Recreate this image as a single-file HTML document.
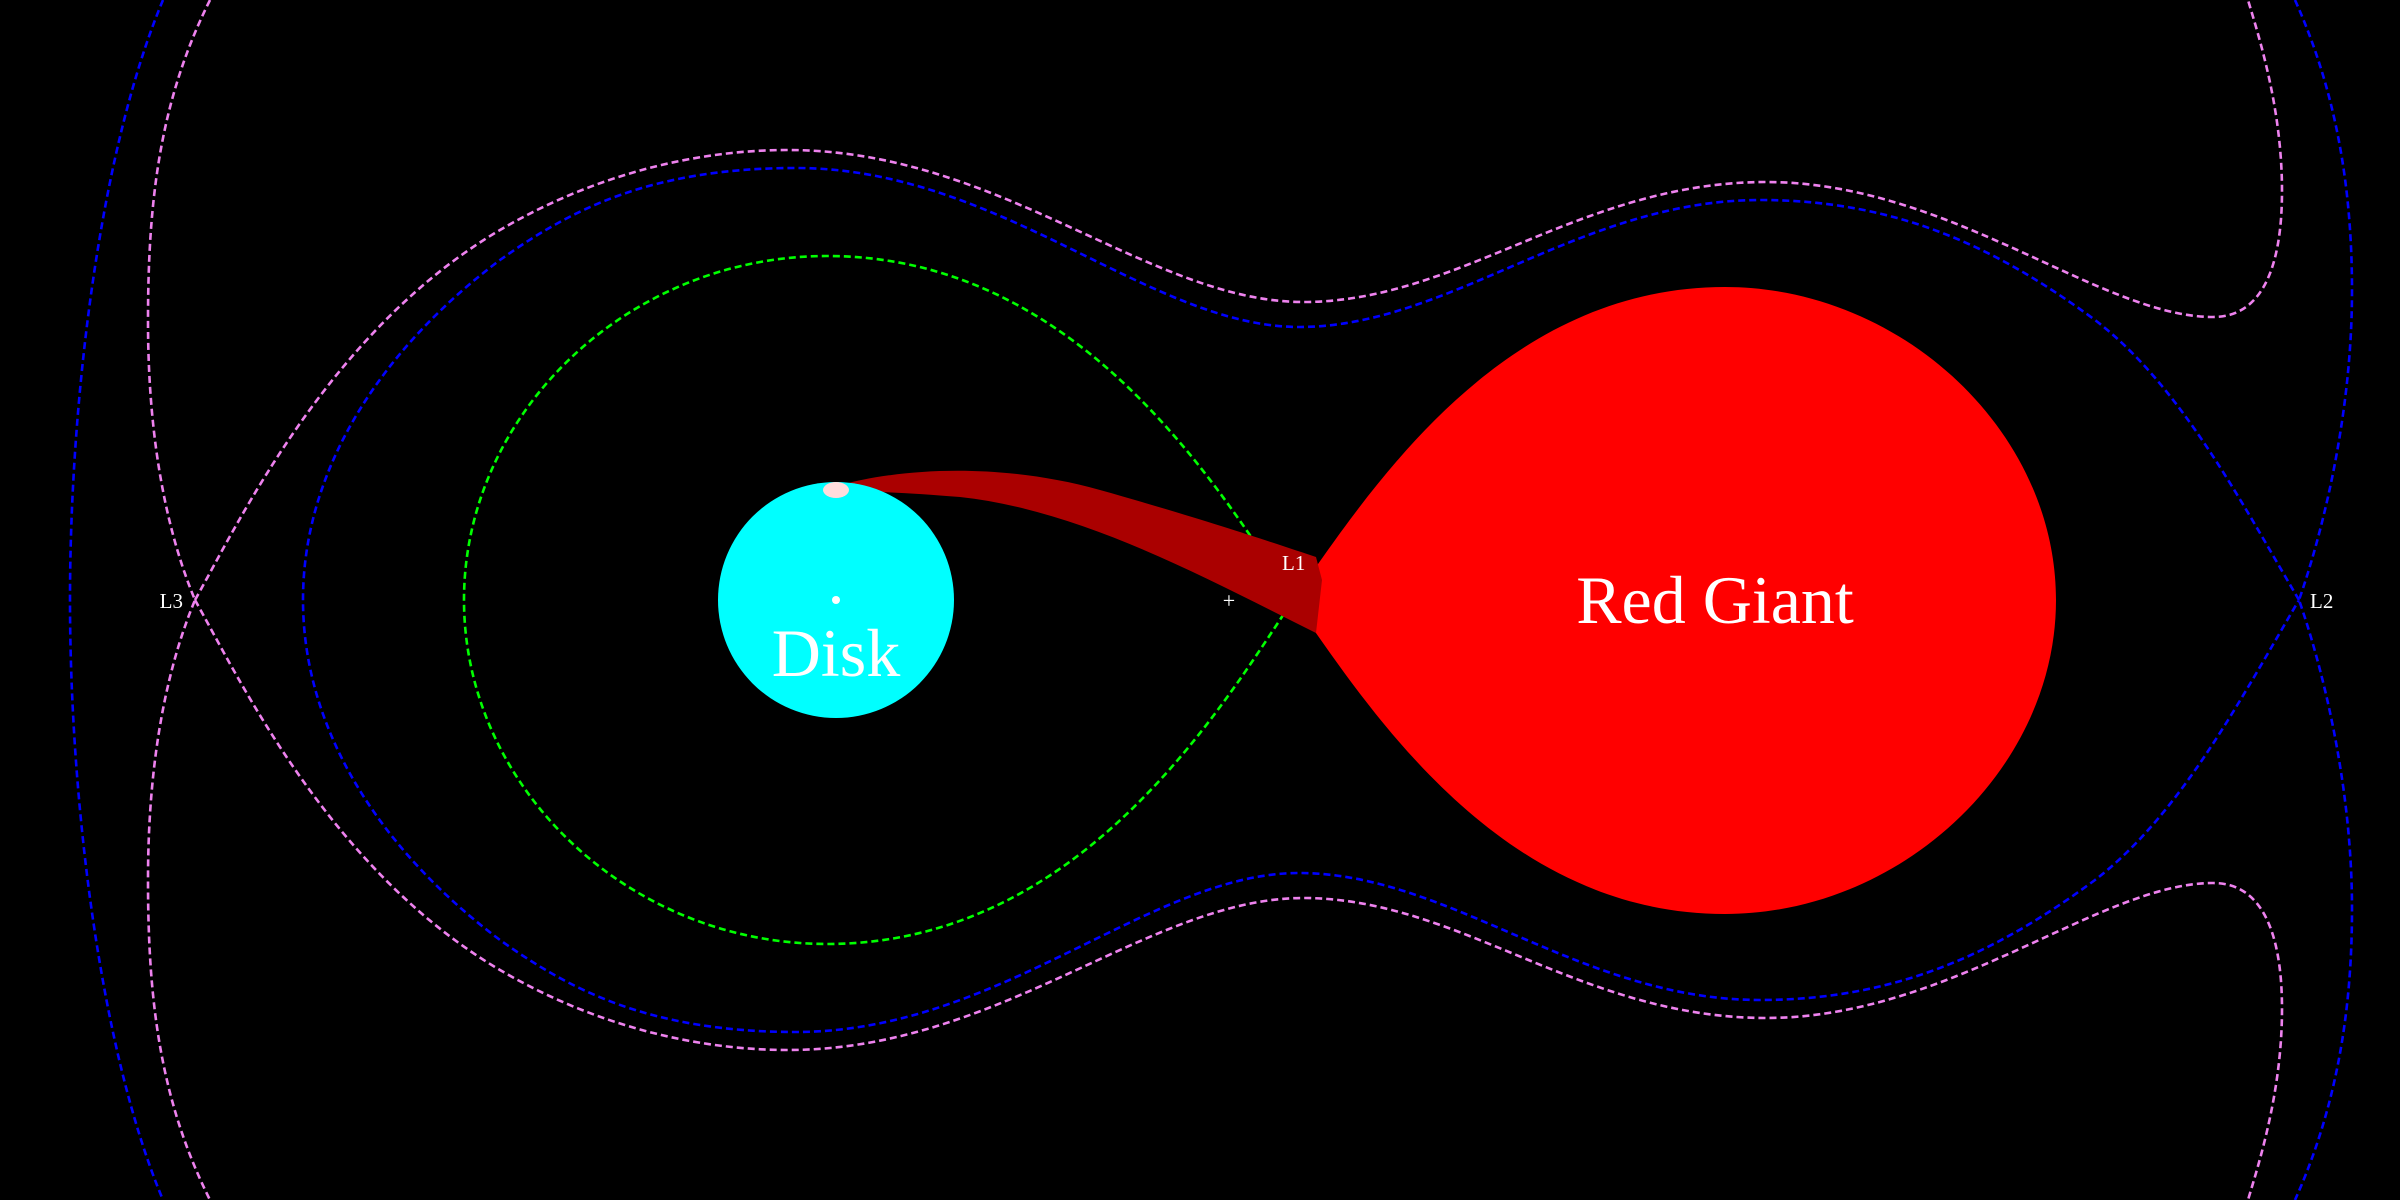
<!DOCTYPE html>
<html><head><meta charset="utf-8"><style>
html,body{margin:0;padding:0;background:#000;}
svg{display:block}
</style></head><body>
<svg width="2400" height="1200" viewBox="0 0 2400 1200" xmlns="http://www.w3.org/2000/svg">
<rect width="2400" height="1200" fill="#000"/>
<g fill="none" stroke-width="2.6" stroke-dasharray="7 4">
<!-- blue outer -->
<path stroke="#0000ff" d="M163,0 C100,150 70,400 70,600 C70,800 100,1050 163,1200"/>
<path stroke="#0000ff" d="M2295,0 C2340,100 2352,200 2352,291 C2352,420 2320,540 2299,600 C2320,660 2352,780 2352,909 C2352,1000 2340,1100 2295,1200"/>
<!-- blue inner -->
<path stroke="#0000ff" d="M2299,600 C2240,500 2180,385 2095,320 C2000,250 1900,200 1760,200 C1580,200 1450,327 1299,327 C1150,327 1000,168 796,168 C650,168 570,210 500,260 C380,350 303,470 303,600 C303,730 380,850 500,940 C570,990 650,1032 796,1032 C1000,1032 1150,873 1299,873 C1450,873 1580,1000 1760,1000 C1900,1000 2000,950 2095,880 C2180,815 2240,700 2299,600"/>
<!-- violet -->
<path stroke="#ee82ee" d="M210,0 C160,100 148,200 148,321 C148,450 170,540 195,600 C170,660 148,750 148,880 C148,1000 160,1100 210,1200"/>
<path stroke="#ee82ee" d="M195,600 C240,520 330,330 500,230 C580,183 680,150 788,150 C1000,150 1150,302 1303,302 C1460,302 1580,182 1766,182 C1950,182 2100,317 2213,317 C2270,317 2282,250 2282,191 C2282,110 2260,40 2248,0"/>
<path stroke="#ee82ee" d="M195,600 C240,680 330,870 500,970 C580,1017 680,1050 788,1050 C1000,1050 1150,898 1303,898 C1460,898 1580,1018 1766,1018 C1950,1018 2100,883 2213,883 C2270,883 2282,950 2282,1009 C2282,1090 2260,1160 2248,1200"/>
<!-- green -->
<path stroke="#00ff00" d="M1293,600 C1220,490 1080,256 827,256 C628,256 464,413 464,600 C464,787 628,944 827,944 C1080,944 1220,710 1293,600Z"/>
</g>
<!-- red giant -->
<path fill="#ff0000" d="M1293,600 C1370,490 1500,287 1725,287 C1900,287 2056,430 2056,600 C2056,770 1900,914 1725,914 C1500,914 1370,710 1293,600Z"/>
<!-- stream -->
<path fill="#aa0000" d="M837,486 C900,468 1000,462 1100,490 C1200,518 1280,545 1316,557 L1322,580 L1316,633 C1200,575 1080,510 960,497 C900,492 860,491 837,491 Z"/>
<!-- disk -->
<circle cx="836" cy="600" r="118" fill="#00ffff"/>
<ellipse cx="836" cy="490" rx="13" ry="8" fill="#ffdcdc"/>
<circle cx="836" cy="600" r="4" fill="#ffffff"/>
<g fill="#fff" font-family="'Liberation Serif',serif">
<text x="836" y="676" font-size="68" text-anchor="middle">Disk</text>
<text x="1715" y="623" font-size="68" text-anchor="middle">Red Giant</text>
<text x="1282" y="570" font-size="21">L1</text>
<text x="183" y="608" font-size="21" text-anchor="end">L3</text>
<text x="2310" y="608" font-size="21">L2</text>
<text x="1229" y="608" font-size="22" text-anchor="middle">+</text>
</g>
</svg>
</body></html>
